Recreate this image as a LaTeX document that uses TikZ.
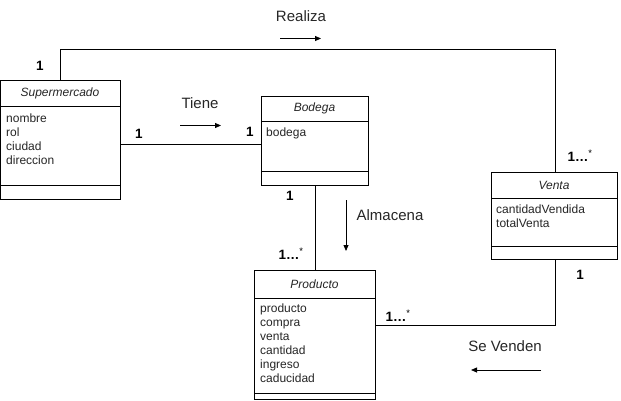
\documentclass[tikz,border=0pt]{standalone}
\usepackage{fontspec}
\setmainfont{Liberation Sans}
\usetikzlibrary{arrows.meta}
\tikzset{
  cls/.style={draw=black, line width=0.8pt, fill=white},
  ln/.style={draw=black, line width=0.8pt},
  attr/.style={anchor=north west, inner sep=0pt, align=left, font=\fontsize{12}{14}\selectfont, text=black!85},
  ttl/.style={inner sep=0pt, font=\fontsize{12}{13}\selectfont\itshape, text=black!85},
  mult/.style={inner sep=0pt, font=\fontsize{13.5}{15}\selectfont\bfseries},
  lbl/.style={inner sep=0pt, font=\fontsize{15}{17}\selectfont, text=black!85},
  dirarrow/.style={draw=black, line width=0.8pt, -{Triangle[length=6pt,width=5pt]}}
}
\newcommand{\mymany}{1\kern0.5pt.\kern0.5pt.\kern0.5pt.\kern0.5pt\textsuperscript{\normalfont *}}
\begin{document}
\begin{tikzpicture}[x=1pt,y=-1pt]
\useasboundingbox (0,0) rectangle (621,401);
% Supermercado
\draw[cls] (0.5,80) rectangle (120,199);
\draw[ln] (0.5,106) -- (120,106);
\draw[ln] (0.5,185) -- (120,185);
\node[ttl] (supT) at (60,93) {Supermercado};
\node[attr] (supA) at (6,113.5) {nombre\\rol\\ciudad\\direccion};
\coordinate (supTop) at (60,80);
\coordinate (supRight) at (120,144);
% Bodega
\draw[cls] (261,96) rectangle (368,185);
\draw[ln] (261,121) -- (368,121);
\draw[ln] (261,171) -- (368,171);
\node[ttl] (bodT) at (314.5,108.5) {Bodega};
\node[attr] (bodA) at (266,127.5) {bodega};
\coordinate (bodLeft) at (261,144);
\coordinate (bodBot) at (315,185);
% Venta
\draw[cls] (491,172) rectangle (617,259);
\draw[ln] (491,198) -- (617,198);
\draw[ln] (491,246) -- (617,246);
\node[ttl] (venT) at (554,185) {Venta};
\node[attr] (venA) at (496,204.5) {cantidadVendida\\totalVenta};
\coordinate (venTop) at (555,172);
\coordinate (venBot) at (555,259);
% Producto
\draw[cls] (254,270) rectangle (375,399.5);
\draw[ln] (254,298) -- (375,298);
\draw[ln] (254,393) -- (375,393);
\node[ttl] (proT) at (314.5,284) {Producto};
\node[attr] (proA) at (260,303.5) {producto\\compra\\venta\\cantidad\\ingreso\\caducidad};
\coordinate (proTop) at (315,270);
\coordinate (proRight) at (375,325);
% connectors
\draw[ln] (supTop) -- (60,49.5) -- (555,49.5) -- (venTop);
\draw[ln] (supRight) -- (bodLeft);
\draw[ln] (bodBot) -- (proTop);
\draw[ln] (venBot) -- (555,325) -- (proRight);
% multiplicities
\node[mult] (m1) at (40,66) {1};
\node[mult] (m2) at (139,134) {1};
\node[mult] (m3) at (250,132) {1};
\node[mult] (m4) at (290,196) {1};
\node[mult] (m5) at (291,254) {\mymany};
\node[mult] (m6) at (580,156) {\mymany};
\node[mult] (m7) at (580,275) {1};
\node[mult] (m8) at (398,316) {\mymany};
% labels and direction arrows
\node[lbl] (lR) at (301,16) {Realiza};
\coordinate (aR1) at (280,38.5);
\coordinate (aR2) at (321,38.5);
\draw[dirarrow] (aR1) -- (aR2);
\node[lbl] (lT) at (200,103) {Tiene};
\coordinate (aT1) at (180,125.5);
\coordinate (aT2) at (221,125.5);
\draw[dirarrow] (aT1) -- (aT2);
\node[lbl] (lA) at (390,215) {Almacena};
\coordinate (aA1) at (346,200);
\coordinate (aA2) at (346,251);
\draw[dirarrow] (aA1) -- (aA2);
\node[lbl] (lS) at (505,346) {Se Venden};
\coordinate (aS1) at (541,370);
\coordinate (aS2) at (471,370);
\draw[dirarrow] (aS1) -- (aS2);
\end{tikzpicture}
\end{document}
